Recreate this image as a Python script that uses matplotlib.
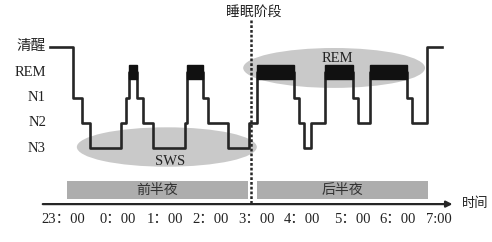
import matplotlib.pyplot as plt
from matplotlib.patches import Ellipse, Rectangle

plt.rcParams["font.family"] = ["Liberation Serif", "Noto Sans CJK SC"]

# 睡眠阶段：4=清醒 3=REM 2=N1 1=N2 0=N3
stage_names = ["N3", "N2", "N1", "REM", "清醒"]
# 时间以 23:00 为 0 点，单位：小时
step_t = [-0.28, 0.21, 0.40, 0.57, 1.23, 1.34, 1.40, 1.57, 1.70, 1.91,
          2.60, 2.64, 2.98, 3.09, 3.51, 3.96, 4.13, 4.91, 5.02, 5.13,
          5.28, 5.57, 6.17, 6.28, 6.53, 7.32, 7.43, 7.74, 8.06]
step_stage = [4, 2, 1, 0, 1, 2, 3, 2, 1, 0,
              1, 3, 2, 1, 0, 1, 3, 2, 1, 0,
              1, 3, 2, 1, 3, 2, 1, 4, 4]

time_labels = ["23：00", "0：00", "1：00", "2：00", "3：00", "4：00",
               "5：00", "6：00", "7:00"]
time_pos = [0.01, 1.17, 2.16, 3.15, 4.11, 5.09, 6.15, 7.11, 8.0]

half_names = ["前半夜", "后半夜"]
half_span = [(0.085, 3.94), (4.13, 7.77)]

split_t = 4.0  # 3:00
line_c = "#262626"

fig = plt.figure(figsize=(4.92, 2.42), dpi=100)
ax = fig.add_axes([0, 0, 1, 1])
ax.set_xlim(-1.34, 9.13)
ax.set_ylim(-3.72, 5.86)
ax.axis("off")

# 阴影椭圆
ax.add_patch(Ellipse((2.21, 0.04), 3.83, 1.56, color="#c9c9c9", lw=0, zorder=1))
ax.add_patch(Ellipse((5.77, 3.17), 3.87, 1.58, color="#c9c9c9", lw=0, zorder=1))
ax.text(2.28, -0.55, "SWS", ha="center", va="center", fontsize=10.5, color="#222")
ax.text(5.83, 3.56, "REM", ha="center", va="center", fontsize=10.5, color="#222")

# 睡眠曲线
ax.step(step_t, step_stage, where="post", color=line_c, lw=1.9, zorder=3)
for i in range(len(step_t) - 1):
    if step_stage[i] == 3:
        ax.add_patch(Rectangle((step_t[i], 2.73), step_t[i + 1] - step_t[i], 0.56,
                               color="#111111", zorder=4))

for lvl, name in enumerate(stage_names):
    ax.text(-0.36, lvl, name, ha="right", va="center", fontsize=10.5, color="#222")

# 分界虚线
ax.plot([split_t, split_t], [5.07, -2.26], color=line_c, lw=1.8,
        dashes=(1.1, 0.8), zorder=5)
ax.text(split_t + 0.06, 5.39, "睡眠阶段", ha="center", va="center",
        fontsize=10, color="#222")

# 前/后半夜
for name, (a, b) in zip(half_names, half_span):
    ax.add_patch(Rectangle((a, -2.02), b - a, 0.71, color="#adadad", lw=0, zorder=1))
    ax.text((a + b) / 2, -1.66, name, ha="center", va="center", fontsize=10,
            color="#333")

# 时间轴
ax.annotate("", xy=(8.29, -2.22), xytext=(-0.43, -2.22),
            arrowprops=dict(arrowstyle="-|>", lw=1.6, color=line_c,
                            mutation_scale=9, shrinkA=0, shrinkB=0))
ax.text(8.5, -2.22, "时间", ha="left", va="center", fontsize=9.5, color="#222")
for p, lab in zip(time_pos, time_labels):
    ax.text(p, -2.82, lab, ha="center", va="center", fontsize=10.5, color="#222")

fig.savefig("out.png", dpi=100)
